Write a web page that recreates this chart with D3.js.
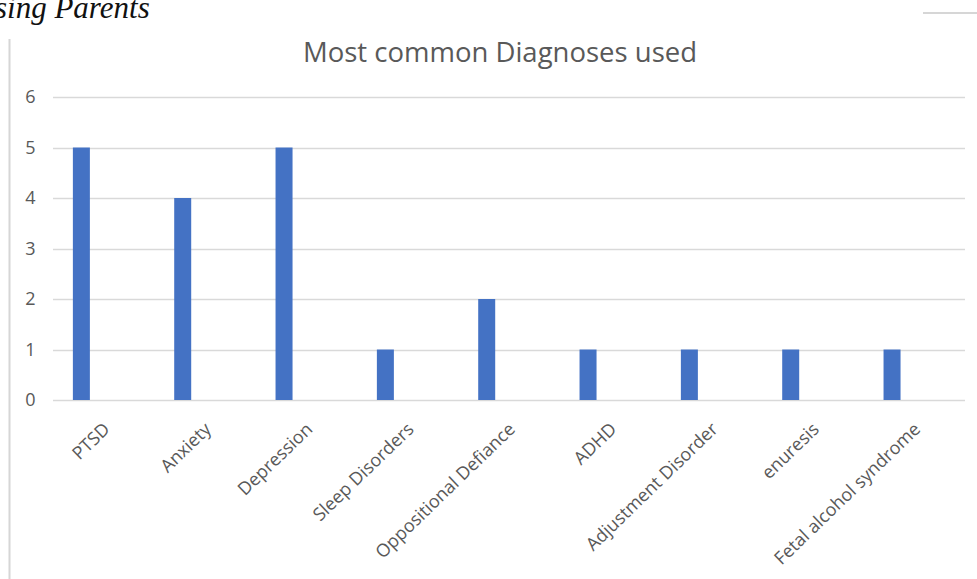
<!DOCTYPE html>
<html>
<head>
<meta charset="utf-8">
<script src="https://cdn.jsdelivr.net/npm/d3@7"></script>
<style>
  body { margin: 0; background: #fff; }
  svg { display: block; }
</style>
</head>
<body>
<script>
// Chart data
const categories = ["PTSD", "Anxiety", "Depression", "Sleep Disorders", "Oppositional Defiance",
  "ADHD", "Adjustment Disorder", "enuresis", "Fetal alcohol syndrome"];
const counts = [5, 4, 5, 1, 2, 1, 1, 1, 1];
const yTicks = [0, 1, 2, 3, 4, 5, 6];
const chartTitle = "Most common Diagnoses used";

const W = 977, H = 579;
const plot = { left: 53, right: 965, top: 97, bottom: 400 };

const svg = d3.select("body").append("svg")
  .attr("width", W)
  .attr("height", H);

// page bits around the chart (cropped document)
svg.append("text")
  .attr("x", -5)
  .attr("y", 18)
  .attr("font-family", "Liberation Serif, serif")
  .attr("font-style", "italic")
  .attr("font-size", 31)
  .attr("fill", "#111")
  .text("sing Parents");

svg.append("line")
  .attr("x1", 9.5).attr("x2", 9.5)
  .attr("y1", 39).attr("y2", H)
  .attr("stroke", "#d6d6d6").attr("stroke-width", 2);

svg.append("line")
  .attr("x1", 923).attr("x2", W)
  .attr("y1", 13).attr("y2", 13)
  .attr("stroke", "#d6d6d6").attr("stroke-width", 2);

// Scales
const x = d3.scaleBand()
  .domain(categories)
  .range([plot.left, plot.right]);

const y = d3.scaleLinear()
  .domain([0, 6])
  .range([plot.bottom, plot.top]);

const barWidth = 17;
const barOffset = x.bandwidth() * 0.28; // bar sits left of category centre, like the excel cluster

// Gridlines
svg.append("g")
  .selectAll("line")
  .data(yTicks)
  .enter()
  .append("line")
  .attr("x1", plot.left)
  .attr("x2", plot.right)
  .attr("y1", (d) => Math.round(y(d)) + 0.5)
  .attr("y2", (d) => Math.round(y(d)) + 0.5)
  .attr("stroke", "#d9d9d9")
  .attr("stroke-width", 1.5);

// Y labels
svg.append("g")
  .selectAll("text")
  .data(yTicks)
  .enter()
  .append("text")
  .attr("x", 35.5)
  .attr("y", (d) => y(d))
  .attr("dy", "0.36em")
  .attr("text-anchor", "end")
  .attr("font-family", "Open Sans, sans-serif")
  .attr("font-size", 18)
  .attr("fill", "#595959")
  .text((d) => d);

// Bars
svg.append("g")
  .selectAll("rect")
  .data(categories)
  .enter()
  .append("rect")
  .attr("x", (d) => x(d) + barOffset - barWidth / 2)
  .attr("y", (d, i) => y(counts[i]))
  .attr("width", barWidth)
  .attr("height", (d, i) => plot.bottom - y(counts[i]))
  .attr("fill", "#4472c4");

// Category labels
svg.append("g")
  .selectAll("text")
  .data(categories)
  .enter()
  .append("text")
  .attr("transform", (d) => `translate(${x(d) + x.bandwidth() / 2 + 1}, 424) rotate(-44)`)
  .attr("text-anchor", "end")
  .attr("dy", "0.5em")
  .attr("font-family", "Open Sans, sans-serif")
  .attr("font-size", 18)
  .attr("fill", "#595959")
  .text((d) => d);

// Title
svg.append("text")
  .attr("x", 500)
  .attr("y", 62)
  .attr("text-anchor", "middle")
  .attr("font-family", "Open Sans, sans-serif")
  .attr("font-size", 27.5)
  .attr("fill", "#595959")
  .text(chartTitle);
</script>
</body>
</html>
